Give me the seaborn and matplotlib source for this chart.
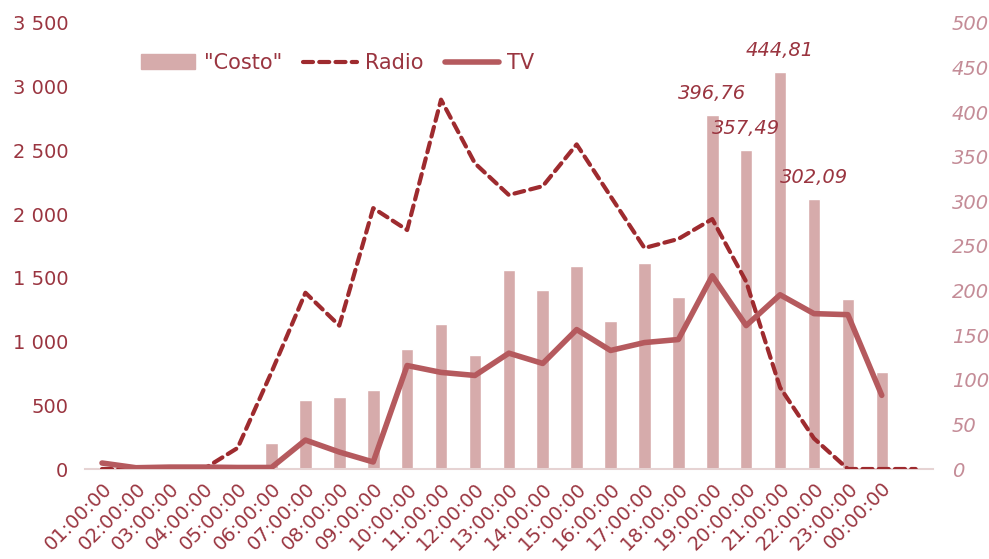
import matplotlib
matplotlib.use("Agg")
import matplotlib.pyplot as plt
import seaborn as sns
import numpy as np
import pandas as pd
from matplotlib.ticker import FuncFormatter
from matplotlib.patches import Patch

hours = ["01:00:00", "02:00:00", "03:00:00", "04:00:00", "05:00:00", "06:00:00",
         "07:00:00", "08:00:00", "09:00:00", "10:00:00", "11:00:00", "12:00:00",
         "13:00:00", "14:00:00", "15:00:00", "16:00:00", "17:00:00", "18:00:00",
         "19:00:00", "20:00:00", "21:00:00", "22:00:00", "23:00:00", "00:00:00", ""]

costo = [2, 0, 0, 0, 6, 29, 77, 81, 89, 134, 162, 128, 223, 201, 228, 166, 231, 193,
         396.76, 357.49, 444.81, 302.09, 191, 109, np.nan]
radio = [0, 0, 0, 0, 165, 760, 1383, 1125, 2047, 1875, 2898, 2398, 2150, 2219, 2547,
         2140, 1734, 1805, 1961, 1470, 640, 240, 0, 0, 0]
tv = [47, 10, 15, 15, 12, 12, 227, 133, 55, 812, 758, 734, 909, 828, 1094, 930, 992,
      1016, 1516, 1125, 1367, 1219, 1211, 578, np.nan]
labelled = {18: "396,76", 19: "357,49", 20: "444,81", 21: "302,09"}

left_ticks = [0, 500, 1000, 1500, 2000, 2500, 3000, 3500]
right_ticks = [0, 50, 100, 150, 200, 250, 300, 350, 400, 450, 500]

BAR = "#D6ABAB"
RADIO = "#9E2B2F"
TV = "#B55A5E"
LTXT = "#9A3540"
RTXT = "#C48C97"
BASE = "#E6D3D3"

sns.set_theme(style="white")
plt.rcParams["font.family"] = ["DejaVu Sans"]

fig = plt.figure(figsize=(9.89, 5.59), dpi=100)
axb = fig.add_axes([0.086, 0.161, 0.857, 0.798])
axl = axb.twinx()

pos = np.arange(len(hours))
df = pd.DataFrame({"hour": hours, "pos": pos, "costo": costo, "radio": radio, "tv": tv})

# bars on the secondary (right) axis
dfb = df.copy()
dfb["costo"] = dfb["costo"].fillna(0)
sns.barplot(data=dfb, x="pos", y="costo", ax=axb, color=BAR, width=0.37,
            saturation=1, native_scale=True, legend=False)
axb.yaxis.tick_right()
axb.set_ylim(0, 500)
axb.set_yticks(right_ticks)

# lines on the left axis
sns.lineplot(data=df, x="pos", y="radio", ax=axl, color=RADIO, lw=3.0,
             linestyle=(0, (2.4, 1.5)), dash_capstyle="round", label="Radio",
             legend=False, sort=False)
sns.lineplot(data=df, x="pos", y="tv", ax=axl, color=TV, lw=4.0,
             solid_capstyle="round", solid_joinstyle="round", label="TV",
             legend=False, sort=False)
axl.yaxis.tick_left()
axl.set_ylim(0, 3500)
axl.set_yticks(left_ticks)

axl.set_zorder(axb.get_zorder() + 1)
axl.patch.set_visible(False)

for a in (axb, axl):
    a.set_xlim(-0.5, len(hours) - 0.5)
    a.set_xlabel("")
    a.set_ylabel("")
    for s in a.spines.values():
        s.set_visible(False)
    a.grid(False)
axb.spines["bottom"].set_visible(True)
axb.spines["bottom"].set_color(BASE)
axb.spines["bottom"].set_linewidth(1.5)

axb.set_xticks(pos)
axb.set_xticklabels(hours, rotation=45, ha="right", rotation_mode="anchor",
                    fontsize=14, color=LTXT)
axb.tick_params(axis="x", length=0, pad=7)
axb.tick_params(axis="y", length=0, labelsize=14, labelcolor=RTXT, pad=14)
for t in axb.get_yticklabels():
    t.set_fontstyle("italic")
axl.tick_params(axis="y", length=0, labelsize=14, labelcolor=LTXT, pad=12)
axl.yaxis.set_major_formatter(FuncFormatter(lambda v, p: f"{int(v):,}".replace(",", " ")))
axl.tick_params(axis="x", bottom=False, labelbottom=False)

for i, txt in labelled.items():
    axb.annotate(txt, (pos[i], costo[i]), xytext=(0, 9), textcoords="offset points",
                 ha="center", va="bottom", fontsize=14, fontstyle="italic", color=LTXT)

h2, l2 = axl.get_legend_handles_labels()
handles = [Patch(color=BAR)] + h2
labels = ['"Costo"'] + l2
leg = axl.legend(handles, labels, loc="center", bbox_to_anchor=(0.298, 0.91), ncol=3,
                 frameon=False, fontsize=15, handlelength=2.6, columnspacing=1.0,
                 handletextpad=0.4)
for t in leg.get_texts():
    t.set_color(LTXT)

fig.savefig("out.png", dpi=100)
